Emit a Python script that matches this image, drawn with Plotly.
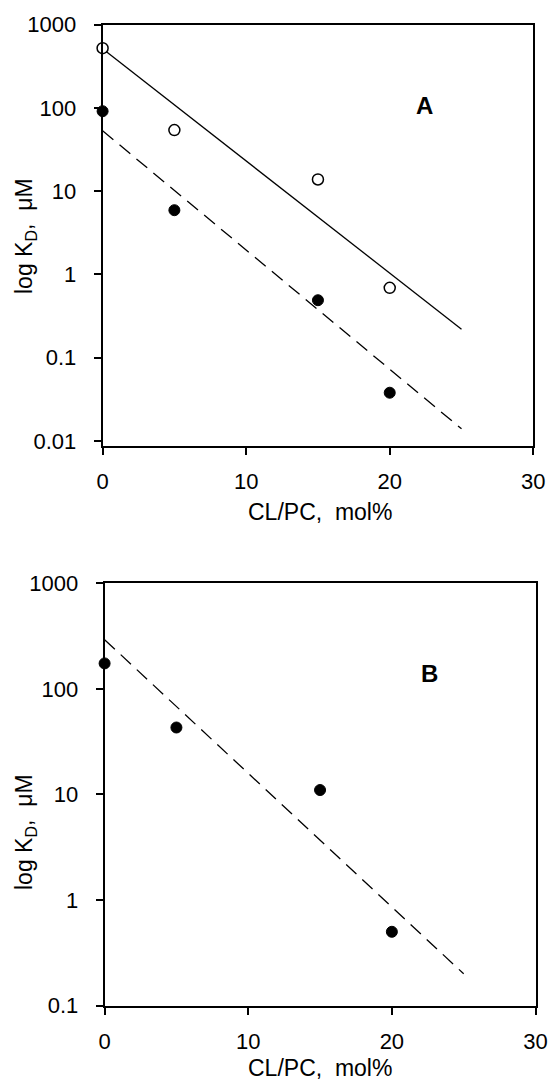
import plotly.graph_objects as go

# ---- data ----
# Panel A
a_x = [0, 5, 15, 20]
a_open = [520, 54, 13.8, 0.69]
a_filled = [91, 5.9, 0.49, 0.038]
fit_x = [0, 25]
a_open_fit = [510, 0.22]
a_filled_fit = [53, 0.014]
# Panel B
b_x = [0, 5, 15, 20]
b_filled = [174, 43, 11, 0.50]
b_fit = [292, 0.20]

x_ticks = [0, 10, 20, 30]
a_yticks = [0.01, 0.1, 1, 10, 100, 1000]
a_yticktext = ["0.01", "0.1", "1", "10", "100", "1000"]
b_yticks = [0.1, 1, 10, 100, 1000]
b_yticktext = ["0.1", "1", "10", "100", "1000"]

W, H = 549, 1080
FONT = "Liberation Sans, Arial, sans-serif"

fig = go.Figure()

# Panel A
fig.add_trace(go.Scatter(x=fit_x, y=a_open_fit, mode="lines",
                         line=dict(color="black", width=1.3),
                         xaxis="x", yaxis="y", showlegend=False))
fig.add_trace(go.Scatter(x=fit_x, y=a_filled_fit, mode="lines",
                         line=dict(color="black", width=1.3, dash="14px,8px"),
                         xaxis="x", yaxis="y", showlegend=False))
fig.add_trace(go.Scatter(x=a_x, y=a_open, mode="markers", cliponaxis=False,
                         marker=dict(symbol="circle", size=11, color="white",
                                     line=dict(color="black", width=1.5)),
                         xaxis="x", yaxis="y", showlegend=False))
fig.add_trace(go.Scatter(x=a_x, y=a_filled, mode="markers", cliponaxis=False,
                         marker=dict(symbol="circle", size=11, color="black",
                                     line=dict(color="black", width=1)),
                         xaxis="x", yaxis="y", showlegend=False))

# Panel B
fig.add_trace(go.Scatter(x=fit_x, y=b_fit, mode="lines",
                         line=dict(color="black", width=1.3, dash="14px,8px"),
                         xaxis="x2", yaxis="y2", showlegend=False))
fig.add_trace(go.Scatter(x=b_x, y=b_filled, mode="markers", cliponaxis=False,
                         marker=dict(symbol="circle", size=11, color="black",
                                     line=dict(color="black", width=1)),
                         xaxis="x2", yaxis="y2", showlegend=False))

axis_common = dict(showline=True, linecolor="black", linewidth=1.8, mirror=True,
                   ticks="outside", ticklen=7, tickwidth=1.6, tickcolor="black",
                   showgrid=False, zeroline=False, automargin=False,
                   tickfont=dict(family=FONT, size=22, color="black"))

fig.update_layout(
    width=W, height=H,
    margin=dict(l=0, r=0, t=0, b=0, autoexpand=False),
    paper_bgcolor="white", plot_bgcolor="white",
    xaxis=dict(domain=[102.6 / W, 533.3 / W], range=[0, 30], anchor="y",
               tickvals=x_ticks, ticklabelstandoff=8, **axis_common),
    yaxis=dict(domain=[(H - 445.7) / H, (H - 24.5) / H], type="log",
               range=[-2.056, 3], anchor="x",
               tickvals=a_yticks, ticktext=a_yticktext, ticklabelstandoff=13,
               **axis_common),
    xaxis2=dict(domain=[104.6 / W, 535.5 / W], range=[0, 30], anchor="y2",
                tickvals=x_ticks, ticklabelstandoff=8, **axis_common),
    yaxis2=dict(domain=[(H - 1005.6) / H, (H - 583.2) / H], type="log",
                range=[-1, 3], anchor="x2",
                tickvals=b_yticks, ticktext=b_yticktext, ticklabelstandoff=13,
                **axis_common),
)

title_font = dict(family=FONT, size=23, color="black")
sp = "\u00a0\u00a0"
annotations = [
    dict(text="log K<sub>D</sub>," + sp + "\u03bcM", xref="paper", yref="paper",
         x=25 / W, y=(H - 236) / H, xanchor="center", yanchor="middle",
         textangle=-90, showarrow=False, font=title_font),
    dict(text="log K<sub>D</sub>," + sp + "\u03bcM", xref="paper", yref="paper",
         x=25 / W, y=(H - 832) / H, xanchor="center", yanchor="middle",
         textangle=-90, showarrow=False, font=title_font),
    dict(text="CL/PC," + sp + "mol%", xref="paper", yref="paper",
         x=320 / W, y=(H - 512) / H, xanchor="center", yanchor="middle",
         showarrow=False, font=title_font),
    dict(text="CL/PC," + sp + "mol%", xref="paper", yref="paper",
         x=320 / W, y=(H - 1068) / H, xanchor="center", yanchor="middle",
         showarrow=False, font=title_font),
    dict(text="<b>A</b>", xref="x", yref="y", x=22.45, y=2.03,
         xanchor="center", yanchor="middle", showarrow=False,
         font=dict(family=FONT, size=24, color="black")),
    dict(text="<b>B</b>", xref="x2", yref="y2", x=22.6, y=2.149,
         xanchor="center", yanchor="middle", showarrow=False,
         font=dict(family=FONT, size=24, color="black")),
]
fig.update_layout(annotations=annotations)

fig.write_html("out.html",
               config={"displayModeBar": False},
               post_script="document.body.style.margin='0px';"
                           "document.body.style.overflow='hidden';")
